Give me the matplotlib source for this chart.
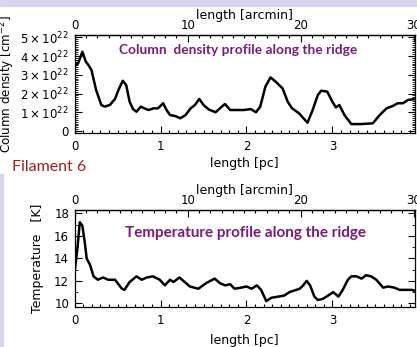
import matplotlib
matplotlib.use('Agg')
import matplotlib.pyplot as plt
from matplotlib.ticker import MultipleLocator, FuncFormatter
from matplotlib.patches import Rectangle

plt.rcParams['font.family'] = 'DejaVu Sans'
plt.rcParams['mathtext.fontset'] = 'dejavusans'

# 1 arcmin in pc along the filament
pc_per_arcmin = 0.1315

# column density along the ridge (x in pc, y in 10^22 cm^-2)
nh2_x = [0.00, 0.04, 0.09, 0.13, 0.16, 0.195, 0.25, 0.31, 0.35, 0.41, 0.47, 0.51,
         0.56, 0.60, 0.64, 0.68, 0.72, 0.77, 0.81, 0.86, 0.92, 0.97, 1.03, 1.07,
         1.11, 1.17, 1.23, 1.29, 1.35, 1.40, 1.45, 1.50, 1.56, 1.64, 1.72, 1.75,
         1.81, 1.89, 1.97, 2.05, 2.11, 2.16, 2.22, 2.28, 2.34, 2.42, 2.48, 2.53,
         2.61, 2.71, 2.77, 2.83, 2.87, 2.94, 3.00, 3.04, 3.08, 3.14, 3.22, 3.33,
         3.47, 3.55, 3.63, 3.70, 3.76, 3.82, 3.88, 3.96]
nh2_y = [3.47, 3.61, 4.23, 3.70, 3.52, 3.26, 2.19, 1.39, 1.30, 1.39, 1.71, 2.19,
         2.68, 2.45, 1.56, 1.16, 1.03, 1.30, 1.21, 1.12, 1.21, 1.21, 1.48, 1.12,
         0.85, 0.80, 0.68, 0.85, 1.21, 1.39, 1.71, 1.39, 1.15, 1.00, 1.33, 1.44,
         1.12, 1.12, 1.12, 1.17, 1.00, 1.30, 2.37, 2.86, 2.63, 2.27, 1.56, 1.21,
         0.95, 0.44, 1.12, 1.92, 2.15, 2.10, 1.56, 1.26, 1.39, 0.85, 0.37, 0.37,
         0.41, 0.85, 1.21, 1.33, 1.48, 1.48, 1.66, 1.70]

# dust temperature along the ridge (x in pc, K)
temp_x = [0.00, 0.03, 0.06, 0.09, 0.12, 0.14, 0.18, 0.22, 0.27, 0.33, 0.39, 0.47,
          0.55, 0.58, 0.64, 0.72, 0.78, 0.84, 0.91, 0.99, 1.05, 1.11, 1.15, 1.22,
          1.28, 1.34, 1.44, 1.53, 1.63, 1.69, 1.75, 1.81, 1.86, 1.94, 2.00, 2.06,
          2.12, 2.17, 2.23, 2.29, 2.37, 2.44, 2.50, 2.62, 2.66, 2.70, 2.74, 2.79,
          2.83, 2.89, 2.95, 3.01, 3.07, 3.12, 3.18, 3.22, 3.28, 3.34, 3.39, 3.45,
          3.51, 3.59, 3.65, 3.72, 3.78, 3.84, 3.92, 3.97]
temp_y = [12.8, 14.7, 17.2, 16.9, 15.3, 14.0, 13.4, 12.4, 12.1, 12.3, 12.1, 12.1,
          11.3, 11.2, 11.9, 12.4, 12.1, 12.3, 12.4, 12.1, 11.6, 12.1, 11.9, 12.3,
          11.9, 11.5, 11.3, 11.8, 12.2, 11.8, 11.6, 11.7, 11.3, 11.4, 11.5, 11.3,
          11.6, 11.2, 10.2, 10.5, 10.6, 10.7, 11.0, 11.3, 11.6, 12.0, 11.6, 10.6,
          10.3, 10.4, 10.7, 11.0, 10.6, 11.2, 12.1, 12.4, 12.4, 12.2, 12.5, 12.4,
          12.1, 11.4, 11.5, 11.4, 11.2, 11.2, 11.2, 11.1]

fig = plt.figure(figsize=(4.17, 3.47), dpi=100)
fig.patches.append(Rectangle((0, 0.983), 1, 0.017, transform=fig.transFigure,
                             color='#dcd2f2', zorder=0))
fig.patches.append(Rectangle((0, 0), 0.006, 0.5, transform=fig.transFigure,
                             color='#dcd2f2', zorder=0))

ax1 = fig.add_axes([0.179, 0.616, 0.816, 0.283])
ax2 = fig.add_axes([0.179, 0.116, 0.816, 0.279])

def to_arcmin(x):
    return x / pc_per_arcmin

def to_pc(x):
    return x * pc_per_arcmin

def nh2_fmt(v, pos):
    if abs(v) < 1e-6:
        return '0'
    return r'$%d\times10^{22}$' % round(v)

for ax in (ax1, ax2):
    ax.set_xlim(0, 3.96)
    ax.xaxis.set_major_locator(MultipleLocator(1))
    ax.xaxis.set_minor_locator(MultipleLocator(0.1))
    ax.tick_params(axis='x', which='both', direction='in', top=False, labelsize=8.5, pad=5)
    ax.tick_params(axis='x', which='major', length=5, width=0.8)
    ax.tick_params(axis='x', which='minor', length=2, width=0.8)
    ax.tick_params(axis='y', which='both', direction='in', right=True, labelsize=8.5, pad=4)
    ax.tick_params(axis='y', which='major', length=5, width=0.8)
    ax.tick_params(axis='y', which='minor', length=2.5, width=0.6)
    for s in ax.spines.values():
        s.set_linewidth(0.9)
    sec = ax.secondary_xaxis('top', functions=(to_arcmin, to_pc))
    sec.xaxis.set_major_locator(MultipleLocator(10))
    sec.xaxis.set_minor_locator(MultipleLocator(1))
    sec.tick_params(which='both', direction='in', labelsize=8.5, pad=2)
    sec.tick_params(which='major', length=5, width=0.8)
    sec.tick_params(which='minor', length=2, width=0.8)
    sec.spines['top'].set_linewidth(0.9)
    sec.set_xlabel('length [arcmin]', fontsize=9, labelpad=0)

ax1.set_xlabel('length [pc]', fontsize=9, labelpad=3)
ax2.set_xlabel('length [pc]', fontsize=9, labelpad=5)

ax1.plot(nh2_x, nh2_y, color='black', lw=1.8)
ax1.set_ylim(-0.12, 5.12)
ax1.yaxis.set_major_locator(MultipleLocator(1))
ax1.yaxis.set_minor_locator(MultipleLocator(0.1))
ax1.yaxis.set_major_formatter(FuncFormatter(nh2_fmt))
ax1.set_ylabel(r'Column density [cm$^{-2}$]', fontsize=8.6)
ax1.yaxis.set_label_coords(-0.168, 0.5)
ax1.text(0.13, 0.81, 'Column  density profile along the ridge', transform=ax1.transAxes,
         fontsize=9.9, fontweight='bold', color='#7b1c7b', family='Lato')

ax2.plot(temp_x, temp_y, color='black', lw=1.8)
ax2.set_ylim(9.7, 18.3)
ax2.yaxis.set_major_locator(MultipleLocator(2))
ax2.yaxis.set_minor_locator(MultipleLocator(1))
ax2.set_ylabel('Temperature   [K]', fontsize=9)
ax2.yaxis.set_label_coords(-0.09, 0.5)
ax2.text(0.148, 0.72, 'Temperature profile along the ridge', transform=ax2.transAxes,
         fontsize=11, fontweight='bold', color='#7b1c7b', family='Lato')

fig.text(0.029, 0.52, 'Filament 6', fontsize=11.5, color='#a3201c', family='Lato', va='center')

fig.savefig('out.png', dpi=100)
